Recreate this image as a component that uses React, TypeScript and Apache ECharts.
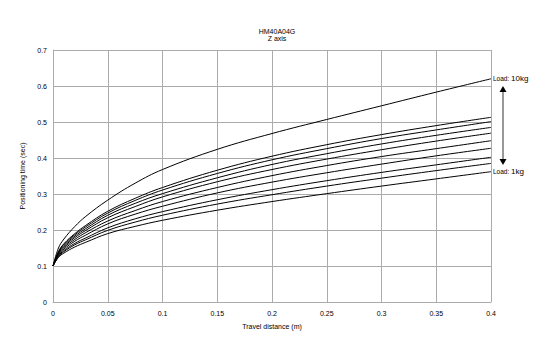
import React, { useEffect, useRef } from "react";
import * as echarts from "echarts";

const distances = [0, 0.005, 0.01, 0.02, 0.03, 0.05, 0.075, 0.1, 0.15, 0.2, 0.25, 0.3, 0.35, 0.4];

const load10kg = [0.1, 0.15, 0.175, 0.21, 0.238, 0.283, 0.33, 0.368, 0.424, 0.468, 0.507, 0.545, 0.583, 0.62];
const load9kg = [0.1, 0.14, 0.162, 0.19, 0.213, 0.252, 0.288, 0.318, 0.366, 0.405, 0.437, 0.465, 0.49, 0.513];
const load8kg = [0.1, 0.139, 0.16, 0.187, 0.209, 0.247, 0.282, 0.311, 0.357, 0.395, 0.426, 0.454, 0.478, 0.501];
const load7kg = [0.1, 0.137, 0.157, 0.183, 0.204, 0.241, 0.274, 0.301, 0.345, 0.382, 0.412, 0.439, 0.463, 0.485];
const load6kg = [0.1, 0.135, 0.154, 0.179, 0.199, 0.234, 0.265, 0.292, 0.334, 0.368, 0.397, 0.423, 0.447, 0.469];
const load5kg = [0.1, 0.133, 0.151, 0.174, 0.193, 0.225, 0.254, 0.279, 0.318, 0.351, 0.379, 0.404, 0.426, 0.448];
const load4kg = [0.1, 0.131, 0.147, 0.169, 0.186, 0.217, 0.244, 0.266, 0.303, 0.333, 0.359, 0.383, 0.406, 0.427];
const load3kg = [0.1, 0.128, 0.143, 0.163, 0.178, 0.206, 0.231, 0.251, 0.284, 0.312, 0.337, 0.36, 0.381, 0.402];
const load2kg = [0.1, 0.126, 0.14, 0.159, 0.173, 0.199, 0.222, 0.241, 0.272, 0.298, 0.322, 0.344, 0.365, 0.385];
const load1kg = [0.1, 0.124, 0.136, 0.153, 0.166, 0.19, 0.21, 0.227, 0.255, 0.279, 0.301, 0.322, 0.342, 0.362];

const seriesNames = ["10kg", "9kg", "8kg", "7kg", "6kg", "5kg", "4kg", "3kg", "2kg", "1kg"];
const seriesValues = [load10kg, load9kg, load8kg, load7kg, load6kg, load5kg, load4kg, load3kg, load2kg, load1kg];

const FONT = "Liberation Sans, Arial, sans-serif";
const GRID_COLOR = "#ababab";

export default function App() {
  const ref = useRef<HTMLDivElement>(null);

  useEffect(() => {
    if (!ref.current) return;
    const chart = echarts.init(ref.current, undefined, { renderer: "svg" });

    const series = seriesValues.map((vals, i) => {
      const isEnd = i === 0 || i === seriesValues.length - 1;
      return {
        name: seriesNames[i],
        type: "line",
        data: distances.map((d, j) => [d, vals[j]]),
        showSymbol: false,
        smooth: 0.4,
        lineStyle: { color: "#000", width: 1 },
        itemStyle: { color: "#000" },
        emphasis: { disabled: true },
        endLabel: isEnd
          ? {
              show: true,
              distance: 2,
              formatter: () => `{a|Load: }{b|${seriesNames[i]}}`,
              rich: {
                a: { fontSize: 6.5, fontFamily: FONT, color: "#000" },
                b: { fontSize: 8, fontFamily: FONT, color: "#000" },
              },
            }
          : { show: false },
      };
    });

    chart.setOption({
      animation: false,
      title: {
        text: "HM40A04G\nZ axis",
        left: 272,
        top: 23,
        textAlign: "center",
        textStyle: {
          fontSize: 7,
          fontWeight: "normal",
          fontFamily: FONT,
          color: "#000",
          lineHeight: 7,
        },
      },
      grid: { left: 53, right: 59, top: 50, bottom: 50 },
      xAxis: {
        type: "value",
        min: 0,
        max: 0.4,
        interval: 0.05,
        name: "Travel distance (m)",
        nameLocation: "middle",
        nameGap: 21,
        nameTextStyle: { fontSize: 7, fontFamily: FONT, color: "#000" },
        axisLine: { show: true, lineStyle: { color: GRID_COLOR, width: 1 } },
        axisTick: { show: false },
        axisLabel: { fontSize: 7, fontFamily: FONT, color: "#000", margin: 8 },
        splitLine: { show: true, lineStyle: { color: GRID_COLOR, width: 1 } },
      },
      yAxis: {
        type: "value",
        min: 0,
        max: 0.7,
        interval: 0.1,
        name: "Positioning time (sec)",
        nameLocation: "middle",
        nameGap: 19,
        nameTextStyle: { fontSize: 7, fontFamily: FONT, color: "#000" },
        axisLine: { show: true, lineStyle: { color: GRID_COLOR, width: 1 } },
        axisTick: { show: false },
        axisLabel: { fontSize: 7, fontFamily: FONT, color: "#000", margin: 6 },
        splitLine: { show: true, lineStyle: { color: GRID_COLOR, width: 1 } },
      },
      series,
      graphic: [
        {
          type: "line",
          shape: { x1: 503, y1: 90, x2: 503, y2: 161 },
          style: { stroke: "#333", lineWidth: 1 },
        },
        {
          type: "polygon",
          shape: { points: [[503, 86], [499.5, 92], [506.5, 92]] },
          style: { fill: "#000" },
        },
        {
          type: "polygon",
          shape: { points: [[503, 165], [499.5, 159], [506.5, 159]] },
          style: { fill: "#000" },
        },
      ],
    });

    return () => chart.dispose();
  }, []);

  return (
    <div
      ref={ref}
      style={{ position: "absolute", left: 0, top: 0, width: 550, height: 352, background: "#fff" }}
    />
  );
}
